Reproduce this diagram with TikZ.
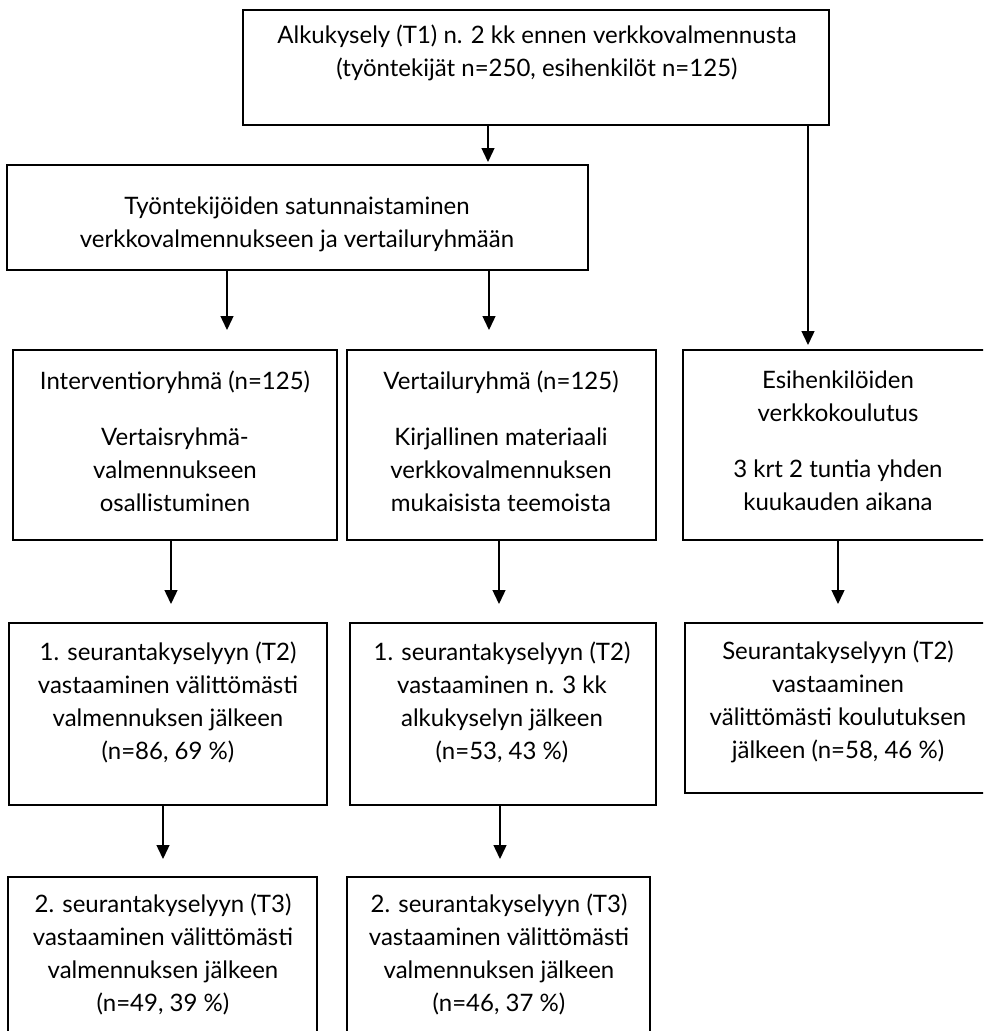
\documentclass[tikz,border=0pt]{standalone}
\usepackage{fontspec}
\setmainfont{Lato}
\usetikzlibrary{arrows.meta}
\begin{document}
\begin{tikzpicture}[x=1pt,y=-1pt,
  box/.style={draw=black, line width=2.5pt, rectangle, inner sep=0pt},
  txt/.style={align=center, inner sep=0pt, font=\fontsize{24}{33}\selectfont},
  arr/.style={draw=black, line width=1.4pt, -{Triangle[width=13pt,length=14pt]}}]
\useasboundingbox (0,0) rectangle (983,1031);
\clip (0,0) rectangle (983,1031);
% boxes
\node[box, minimum width=586pt, minimum height=115pt] (top) at (536,67.5) {};
\node[box, minimum width=581pt, minimum height=105pt] (rand) at (297.5,217.5) {};
\node[box, minimum width=324pt, minimum height=190pt] (interv) at (175,445) {};
\node[box, minimum width=309pt, minimum height=190pt] (vert) at (501.5,445) {};
\node[box, minimum width=317pt, minimum height=190pt] (esih) at (841.5,445) {};
\node[box, minimum width=318pt, minimum height=182pt] (fa) at (168,714) {};
\node[box, minimum width=306pt, minimum height=182pt] (fb) at (503,714) {};
\node[box, minimum width=315pt, minimum height=170pt] (fc) at (842.5,708) {};
\node[box, minimum width=309pt, minimum height=168pt] (ga) at (162.5,961) {};
\node[box, minimum width=303pt, minimum height=168pt] (gb) at (498.5,961) {};
% texts
\node[txt] (ttop) at (537,52.5) {Alkukysely (T1) n. 2 kk ennen verkkovalmennusta\\(työntekijät n=250, esihenkilöt n=125)};
\node[txt] (trand) at (297,224.5) {Työntekijöiden satunnaistaminen\\verkkovalmennukseen ja vertailuryhmään};
\node[txt] (tinterv) at (175,441) {Interventioryhmä (n=125)\\[23pt]Vertaisryhmä-\\valmennukseen\\osallistuminen};
\node[txt] (tvert) at (501,441) {Vertailuryhmä (n=125)\\[23pt]Kirjallinen materiaali\\verkkovalmennuksen\\mukaisista teemoista};
\node[txt] (tesih) at (838,441) {Esihenkilöiden\\verkkokoulutus\\[23pt]3 krt 2 tuntia yhden\\kuukauden aikana};
\node[txt] (tfa) at (168,702) {1. seurantakyselyyn (T2)\\vastaaminen välittömästi\\valmennuksen jälkeen\\(n=86, 69 \%)};
\node[txt] (tfb) at (502,702) {1. seurantakyselyyn (T2)\\vastaaminen n. 3 kk\\alkukyselyn jälkeen\\(n=53, 43 \%)};
\node[txt] (tfc) at (838,702) {Seurantakyselyyn (T2)\\vastaaminen\\välittömästi koulutuksen\\jälkeen (n=58, 46 \%)};
\node[txt] (tga) at (163,954) {2. seurantakyselyyn (T3)\\vastaaminen välittömästi\\valmennuksen jälkeen\\(n=49, 39 \%)};
\node[txt] (tgb) at (499,954) {2. seurantakyselyyn (T3)\\vastaaminen välittömästi\\valmennuksen jälkeen\\(n=46, 37 \%)};
% arrow end points
\coordinate (c1) at (488,162);
\coordinate (c2) at (808,345);
\coordinate (c3) at (227,330);
\coordinate (c4) at (489,330);
\coordinate (c5) at (171,604);
\coordinate (c6) at (499,604);
\coordinate (c7) at (838,604);
\coordinate (c8) at (163,859);
\coordinate (c9) at (500,859);
% connectors
\draw[arr] (top.south -| c1) -- (c1);
\draw[arr] (top.south -| c2) -- (c2);
\draw[arr] (rand.south -| c3) -- (c3);
\draw[arr] (rand.south -| c4) -- (c4);
\draw[arr] (interv.south -| c5) -- (c5);
\draw[arr] (vert.south -| c6) -- (c6);
\draw[arr] (esih.south -| c7) -- (c7);
\draw[arr] (fa.south -| c8) -- (c8);
\draw[arr] (fb.south -| c9) -- (c9);
\end{tikzpicture}
\end{document}
